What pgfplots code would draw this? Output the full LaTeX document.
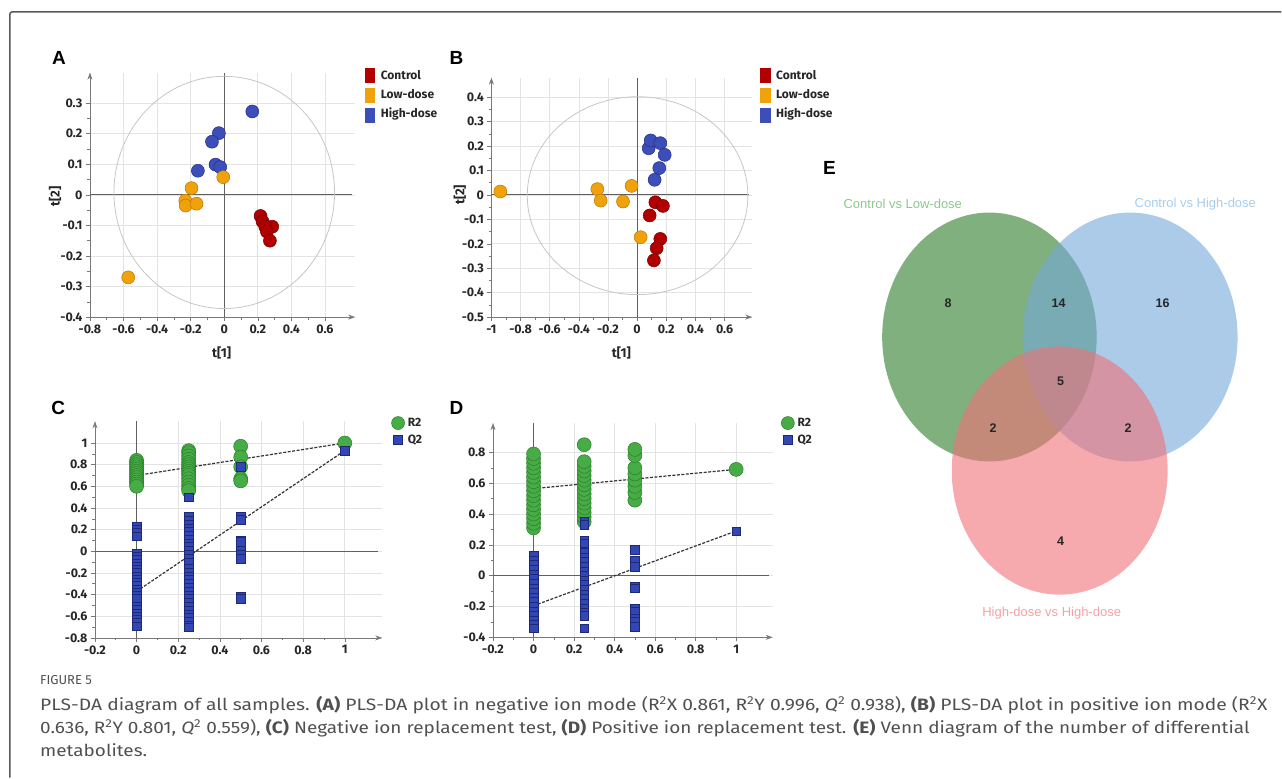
\documentclass[border=0pt]{standalone}
\usepackage{pgfplots}
\pgfplotsset{compat=1.18}
\usepackage{fontspec}
\usepackage{graphicx}
\setmainfont{Liberation Sans}
\newfontfamily\tickfont{Fira Sans}
\newfontfamily\capfont{Fira Sans}
\usetikzlibrary{arrows.meta}

\definecolor{cred}{RGB}{178,0,0}
\definecolor{credD}{RGB}{115,0,0}
\definecolor{corange}{RGB}{240,162,10}
\definecolor{corangeD}{RGB}{185,118,10}
\definecolor{cblue}{RGB}{60,78,185}
\definecolor{cblueD}{RGB}{35,45,130}
\definecolor{cgreen}{RGB}{72,172,70}
\definecolor{cgreenD}{RGB}{40,125,40}
\definecolor{csq}{RGB}{50,70,180}
\definecolor{csqD}{RGB}{30,40,120}
\definecolor{vgreen}{RGB}{42,123,38}
\definecolor{vblue}{RGB}{115,168,218}
\definecolor{vpink}{RGB}{240,113,120}
\definecolor{axgray}{RGB}{120,120,120}
\definecolor{capgray}{RGB}{80,80,80}

\pgfplotsset{
  pca/.style={
    scale only axis, axis lines=left,
    axis line style={draw=axgray, line width=0.8pt},
    x axis line style={-{Stealth[length=7pt,width=5pt]}},
    y axis line style={-{Stealth[length=7pt,width=5pt]}},
    grid=major, major grid style={gray!22, line width=0.7pt},
    tick align=outside, major tick length=4pt, minor tick length=2.5pt,
    tick style={axgray, line width=0.6pt},
    minor x tick num=1, minor y tick num=1,
    ticklabel style={font=\tickfont\bfseries\fontsize{12.5}{14}\selectfont, text=black!85},
    clip=false,
  },
  zeroline/.style={gray!75!black, line width=1pt, forget plot},
}

\begin{document}
\begin{tikzpicture}[x=1pt,y=1pt]
\path (0,0) rectangle (1282,778);
% frame
\draw[gray!70!black, line width=1.5pt, rounded corners=2pt] (10,0) -- (10,766) -- (1282,766);

% ================= Panel A =================
\begin{axis}[pca, at={(90pt,460.7pt)}, width=265.4pt, height=244.6pt,
  xmin=-0.8, xmax=0.78, ymin=-0.4, ymax=0.4,
  xtick={-0.8,-0.6,-0.4,-0.2,0,0.2,0.4,0.6},
  xticklabels={-0.8,-0.6,-0.4,-0.2,0,0.2,0.4,0.6},
  ytick={-0.4,-0.3,-0.2,-0.1,0,0.1,0.2,0.3},
  yticklabels={-0.4,-0.3,-0.2,-0.1,0,0.1,0.2,0.3}]
\addplot[zeroline] coordinates {(0,-0.4) (0,0.4)};
\addplot[zeroline] coordinates {(-0.8,0) (0.76,0)};
\draw[gray!45, line width=0.8pt] (axis cs:0,0.008) ellipse [x radius=0.657, y radius=0.38];
\addplot[only marks, mark=*, mark size=6.5pt, mark options={fill=cblue, draw=cblueD, line width=0.5pt}]
  coordinates {(0.167,0.273) (-0.032,0.202) (-0.073,0.174) (-0.157,0.079) (-0.052,0.099) (-0.024,0.091)};
\addplot[only marks, mark=*, mark size=6.5pt, mark options={fill=corange, draw=corangeD, line width=0.5pt}]
  coordinates {(-0.006,0.058) (-0.195,0.022) (-0.232,-0.019) (-0.230,-0.035) (-0.165,-0.029) (-0.572,-0.270)};
\addplot[only marks, mark=*, mark size=6.5pt, mark options={fill=cred, draw=credD, line width=0.5pt}]
  coordinates {(0.216,-0.069) (0.228,-0.087) (0.286,-0.104) (0.244,-0.104) (0.254,-0.120) (0.272,-0.150)};
\end{axis}

% ================= Panel B =================
\begin{axis}[pca, at={(491.7pt,460.7pt)}, width=261.0pt, height=239.6pt,
  xmin=-1, xmax=0.79, ymin=-0.5, ymax=0.48,
  xtick={-1,-0.8,-0.6,-0.4,-0.2,0,0.2,0.4,0.6},
  xticklabels={-1,-0.8,-0.6,-0.4,-0.2,0,0.2,0.4,0.6},
  ytick={-0.5,-0.4,-0.3,-0.2,-0.1,0,0.1,0.2,0.3,0.4},
  yticklabels={-0.5,-0.4,-0.3,-0.2,-0.1,0,0.1,0.2,0.3,0.4}]
\addplot[zeroline] coordinates {(0,-0.5) (0,0.48)};
\addplot[zeroline] coordinates {(-1,0) (0.77,0)};
\draw[gray!45, line width=0.8pt] (axis cs:0.003,-0.003) ellipse [x radius=0.757, y radius=0.405];
\addplot[only marks, mark=*, mark size=6.5pt, mark options={fill=cblue, draw=cblueD, line width=0.5pt}]
  coordinates {(0.079,0.191) (0.093,0.223) (0.159,0.212) (0.189,0.164) (0.152,0.110) (0.120,0.062)};
\addplot[only marks, mark=*, mark size=6.5pt, mark options={fill=corange, draw=corangeD, line width=0.5pt}]
  coordinates {(-0.939,0.014) (-0.273,0.024) (-0.250,-0.023) (-0.097,-0.027) (-0.038,0.037) (0.024,-0.173)};
\addplot[only marks, mark=*, mark size=6.5pt, mark options={fill=cred, draw=credD, line width=0.5pt}]
  coordinates {(0.125,-0.030) (0.177,-0.045) (0.086,-0.084) (0.159,-0.180) (0.134,-0.218) (0.115,-0.268)};
\end{axis}

% ================= Panel C =================
\begin{axis}[pca, at={(95pt,139.7pt)}, width=287.5pt, height=216.7pt,
  xmin=-0.2, xmax=1.18, ymin=-0.8, ymax=1.2,
  xtick={-0.2,0,0.2,0.4,0.6,0.8,1},
  xticklabels={-0.2,0,0.2,0.4,0.6,0.8,1},
  ytick={-0.8,-0.6,-0.4,-0.2,0,0.2,0.4,0.6,0.8,1},
  yticklabels={-0.8,-0.6,-0.4,-0.2,0,0.2,0.4,0.6,0.8,1}]
\addplot[zeroline] coordinates {(0,-0.8) (0,1.2)};
\addplot[zeroline] coordinates {(-0.2,0) (1.16,0)};
\addplot[only marks, mark=*, mark size=7pt, mark options={fill=cgreen, draw=cgreenD, line width=0.5pt}]
  coordinates {(0,0.84) (0,0.82) (0,0.80) (0,0.78) (0,0.76) (0,0.74) (0,0.72) (0,0.70) (0,0.68) (0,0.66) (0,0.64) (0,0.62) (0,0.60)
  (0.25,0.93) (0.25,0.91) (0.25,0.88) (0.25,0.85) (0.25,0.82) (0.25,0.80) (0.25,0.78) (0.25,0.76) (0.25,0.74) (0.25,0.72) (0.25,0.70) (0.25,0.67) (0.25,0.64) (0.25,0.61) (0.25,0.58) (0.25,0.56)
  (0.5,0.97) (0.5,0.87) (0.5,0.78) (0.5,0.67) (0.5,0.65) (1,1.0)};
\addplot[only marks, mark=square*, mark size=4.3pt, mark options={fill=csq, draw=csqD, line width=0.4pt}]
  coordinates {(0,0.23) (0,0.20) (0,0.17) (0,0.14) (0,-0.02) (0,-0.05) (0,-0.08) (0,-0.11) (0,-0.14) (0,-0.17) (0,-0.20) (0,-0.23) (0,-0.26) (0,-0.29) (0,-0.32) (0,-0.35) (0,-0.38) (0,-0.41) (0,-0.44)
  (0,-0.51) (0,-0.54) (0,-0.57) (0,-0.60) (0,-0.63) (0,-0.66) (0,-0.69)
  (0.25,0.50) (0.25,0.32) (0.25,0.285) (0.25,0.25) (0.25,0.215) (0.25,0.18) (0.25,0.145) (0.25,0.11) (0.25,0.075) (0.25,0.04) (0.25,0.005) (0.25,-0.03) (0.25,-0.065) (0.25,-0.10)
  (0.25,-0.16) (0.25,-0.195) (0.25,-0.23) (0.25,-0.265) (0.25,-0.30) (0.25,-0.335) (0.25,-0.37) (0.25,-0.405) (0.25,-0.44) (0.25,-0.475) (0.25,-0.51) (0.25,-0.545) (0.25,-0.58) (0.25,-0.615) (0.25,-0.65) (0.25,-0.685) (0.25,-0.70)
  (0.5,0.78) (0.5,0.32) (0.5,0.29) (0.5,0.10) (0.5,0.09) (0.5,0.01) (0.5,-0.03) (0.5,-0.07) (0.5,-0.42) (0.5,-0.44) (1,0.93)};
\addplot[black!80, line width=1.2pt, dash pattern=on 3pt off 1.5pt] coordinates {(0,0.70) (1,1.0)};
\addplot[black!80, line width=1.2pt, dash pattern=on 3pt off 1.5pt] coordinates {(0,-0.37) (1,0.93)};
\end{axis}

% ================= Panel D =================
\begin{axis}[pca, at={(493.3pt,140.3pt)}, width=279.8pt, height=214.3pt,
  xmin=-0.2, xmax=1.18, ymin=-0.4, ymax=0.99,
  xtick={-0.2,0,0.2,0.4,0.6,0.8,1},
  xticklabels={-0.2,0,0.2,0.4,0.6,0.8,1},
  ytick={-0.4,-0.2,0,0.2,0.4,0.6,0.8},
  yticklabels={-0.4,-0.2,0,0.2,0.4,0.6,0.8}]
\addplot[zeroline] coordinates {(0,-0.4) (0,0.99)};
\addplot[zeroline] coordinates {(-0.2,0) (1.16,0)};
\addplot[only marks, mark=*, mark size=7pt, mark options={fill=cgreen, draw=cgreenD, line width=0.5pt}]
  coordinates {(0,0.31) (0,0.34) (0,0.37) (0,0.40) (0,0.43) (0,0.46) (0,0.49) (0,0.52) (0,0.55) (0,0.58) (0,0.61) (0,0.64) (0,0.67) (0,0.70) (0,0.73) (0,0.76) (0,0.79)
  (0.25,0.35) (0.25,0.38) (0.25,0.41) (0.25,0.44) (0.25,0.47) (0.25,0.50) (0.25,0.53) (0.25,0.56) (0.25,0.59) (0.25,0.62) (0.25,0.65) (0.25,0.68) (0.25,0.71) (0.25,0.74) (0.25,0.85)
  (0.5,0.49) (0.5,0.54) (0.5,0.58) (0.5,0.62) (0.5,0.66) (0.5,0.70) (0.5,0.78) (0.5,0.82) (1,0.69)};
\addplot[only marks, mark=square*, mark size=4.3pt, mark options={fill=csq, draw=csqD, line width=0.4pt}]
  coordinates {(0,0.13) (0,0.10) (0,0.07) (0,0.04) (0,0.01) (0,-0.02) (0,-0.05) (0,-0.08) (0,-0.11) (0,-0.14) (0,-0.17) (0,-0.20) (0,-0.23) (0,-0.26) (0,-0.29) (0,-0.32) (0,-0.34)
  (0.25,0.35) (0.25,0.33) (0.25,0.23) (0.25,0.21) (0.25,0.15) (0.25,0.12) (0.25,0.09) (0.25,0.06) (0.25,0.03) (0.25,0.0) (0.25,-0.03) (0.25,-0.06) (0.25,-0.09) (0.25,-0.12) (0.25,-0.15) (0.25,-0.18) (0.25,-0.21) (0.25,-0.24) (0.25,-0.26) (0.25,-0.34)
  (0.5,0.17) (0.5,0.10) (0.5,0.06) (0.5,-0.07) (0.5,-0.08) (0.5,-0.21) (0.5,-0.23) (0.5,-0.28) (0.5,-0.30) (0.5,-0.33) (1,0.29)};
\addplot[black!80, line width=1.2pt, dash pattern=on 3pt off 1.5pt] coordinates {(0,0.565) (1,0.69)};
\addplot[black!80, line width=1.2pt, dash pattern=on 3pt off 1.5pt] coordinates {(0,-0.195) (1,0.29)};
\end{axis}

% ---------- panel letters ----------
\begin{scope}[every node/.style={font=\bfseries\fontsize{19}{22}\selectfont}]
\node at (59,720) {A};
\node at (456.7,720) {B};
\node at (58.3,370) {C};
\node at (456.7,370) {D};
\node at (830,610) {E};
\end{scope}

% ---------- axis titles A/B ----------
\begin{scope}[every node/.style={font=\tickfont\bfseries\fontsize{13}{15}\selectfont, text=black!85}]
\node at (221.7,424.7) {t[1]};
\node[rotate=90] at (55,581.3) {t[2]};
\node at (621.7,424.7) {t[1]};
\node[rotate=90] at (460,583) {t[2]};
\end{scope}

% ---------- legends ----------
\begin{scope}[every node/.style={font=\tickfont\bfseries\fontsize{12}{14}\selectfont, text=black!85, anchor=west}]
\fill[cred] (365,694.7) rectangle (375,709.7);
\fill[corange] (365,674.7) rectangle (375,689.7);
\fill[cblue] (365,654.7) rectangle (375,669.7);
\node at (377.5,703) {Control};
\node at (377.5,683.5) {Low-dose};
\node at (377.5,664) {High-dose};
\fill[cred] (760.7,694.7) rectangle (771.7,709.7);
\fill[corange] (760.7,674.7) rectangle (771.7,689.7);
\fill[cblue] (760.7,654.7) rectangle (771.7,669.7);
\node at (773,703) {Control};
\node at (773,683.5) {Low-dose};
\node at (773,664) {High-dose};
% legends C/D
\fill[cgreen, draw=cgreenD, line width=0.5pt] (398.3,354.7) circle (6.5);
\fill[csq, draw=csqD, line width=0.4pt] (393.8,333.5) rectangle (402.8,342.5);
\node at (404.5,355) {R2};
\node at (404.5,338) {Q2};
\fill[cgreen, draw=cgreenD, line width=0.5pt] (788.3,354.7) circle (6.5);
\fill[csq, draw=csqD, line width=0.4pt] (783.8,333.5) rectangle (792.8,342.5);
\node at (794.5,355) {R2};
\node at (794.5,338) {Q2};
\end{scope}

% ---------- Venn diagram (E) ----------
\fill[vgreen, fill opacity=0.6] (990,440.8) ellipse [x radius=107.3, y radius=124.5];
\fill[vblue, fill opacity=0.6] (1130.8,440.8) ellipse [x radius=107.5, y radius=124.5];
\fill[vpink, fill opacity=0.6] (1060.3,307.2) ellipse [x radius=108, y radius=124.2];
\begin{scope}[every node/.style={font=\fontsize{13}{15}\selectfont}]
\node[text={rgb,255:red,140;green,200;blue,140}] at (903.3,573.7) {Control vs Low-dose};
\node[text={rgb,255:red,168;green,205;blue,235}] at (1196,573.7) {Control vs High-dose};
\node[text={rgb,255:red,245;green,160;blue,165}] at (1052.3,164.7) {High-dose vs High-dose};
\end{scope}
\begin{scope}[every node/.style={font=\bfseries\fontsize{12.5}{14}\selectfont, text=black!85}]
\node at (948.7,474.3) {8};
\node at (1059.3,474.3) {14};
\node at (1163.3,474.3) {16};
\node at (1061.3,397) {5};
\node at (993.7,350) {2};
\node at (1128.7,350) {2};
\node at (1061.3,236) {4};
\end{scope}

% ---------- caption ----------
\node[anchor=base west, inner sep=0, text=capgray, font=\capfont\fontsize{13}{15}\selectfont] at (40,93) {FIGURE 5};
\begin{scope}[every node/.style={anchor=base west, inner sep=0, text=capgray, font=\capfont\fontsize{16.5}{20}\selectfont}]
\node at (40,67) {\resizebox{1228pt}{\height}{PLS-DA diagram of all samples. \textbf{(A)} PLS-DA plot in negative ion mode (R\textsuperscript{2}X 0.861, R\textsuperscript{2}Y 0.996, \textit{Q}\textsuperscript{2} 0.938), \textbf{(B)} PLS-DA plot in positive ion mode (R\textsuperscript{2}X}};
\node at (40,44) {\resizebox{1210pt}{\height}{0.636, R\textsuperscript{2}Y 0.801, \textit{Q}\textsuperscript{2} 0.559), \textbf{(C)} Negative ion replacement test, \textbf{(D)} Positive ion replacement test. \textbf{(E)} Venn diagram of the number of differential}};
\node at (40,21) {\resizebox{107pt}{\height}{metabolites.}};
\end{scope}
\end{tikzpicture}
\end{document}
